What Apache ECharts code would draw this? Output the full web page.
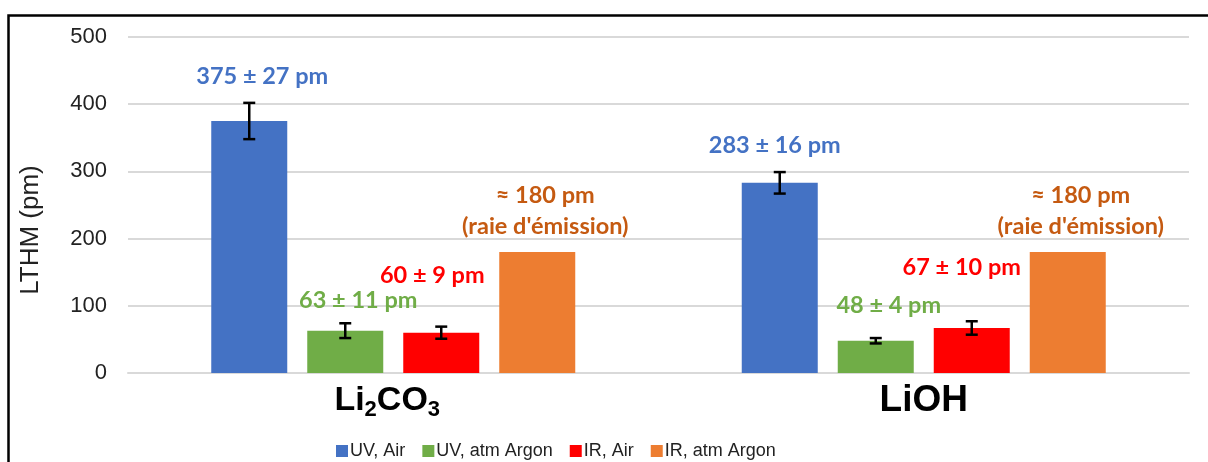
<!DOCTYPE html>
<html style="height: 100%">
<head>
    <meta charset="utf-8">
    <script type="text/javascript" src="https://cdn.jsdelivr.net/npm/echarts@6/dist/echarts.min.js"></script>
</head>
<body style="height: 100%; margin: 0; background: #fff">
<div id="container" style="width: 1208px; height: 462px"></div>
<script type="text/javascript">
    // donnees
    var categories = ['Li2CO3', 'LiOH'];
    var seriesNames = ['UV, Air', 'UV, atm Argon', 'IR, Air', 'IR, atm Argon'];
    var uvAir = [375, 283];
    var uvAirErr = [27, 16];
    var uvArgon = [63, 48];
    var uvArgonErr = [11, 4];
    var irAir = [60, 67];
    var irAirErr = [9, 10];
    var irArgon = [180, 180];
    var valueLabels = [
        ['375 ± 27 pm', '283 ± 16 pm'],
        ['63 ± 11 pm', '48 ± 4 pm'],
        ['60 ± 9 pm', '67 ± 10 pm'],
        ['≈ 180 pm', '≈ 180 pm']
    ];
    var yTicks = [0, 100, 200, 300, 400, 500];

    var colors = ['#4472C4', '#70AD47', '#FF0000', '#ED7D31'];
    var labelColors = ['#4472C4', '#70AD47', '#FF0000', '#C55A11'];
    // decalages des etiquettes [dx, dy] par serie et categorie
    var labelOffsets = [
        [[13, -32], [-5, -24]],
        [[13, -17], [13, -22]],
        [[-9, -44], [-10, -48]],
        [[8, -10], [13, -10]]
    ];

    var values = [uvAir, uvArgon, irAir, irArgon];
    var errors = [uvAirErr, uvArgonErr, irAirErr, null];

    var dom = document.getElementById('container');
    var myChart = echarts.init(dom);

    var font = 'Lato';
    var series = values.map(function (vals, s) {
        return {
            name: seriesNames[s],
            type: 'bar',
            barWidth: 76,
            barGap: (20 / 76 * 100) + '%',
            itemStyle: { color: colors[s] },
            data: vals.map(function (v, c) {
                return {
                    value: v,
                    label: {
                        show: true,
                        position: 'top',
                        distance: 0,
                        offset: labelOffsets[s][c],
                        formatter: s === 3 ? '{a|' + valueLabels[s][c] + '}\n{a|(raie d\'émission)}' : valueLabels[s][c],
                        color: labelColors[s],
                        fontFamily: font,
                        fontWeight: 'bold',
                        fontSize: 23.5,
                        lineHeight: 26,
                        rich: {
                            a: { fontFamily: font, fontWeight: 'bold', fontSize: 23.5, lineHeight: 31, color: labelColors[s] }
                        }
                    }
                };
            })
        };
    });

    // barres d'erreur
    var errData = [];
    errors.forEach(function (errs, s) {
        if (!errs) return;
        errs.forEach(function (e, c) {
            errData.push([c, values[s][c] - e, values[s][c] + e, s]);
        });
    });
    series.push({
        type: 'custom',
        name: 'err',
        z: 5,
        silent: true,
        data: errData,
        encode: { x: 0, y: [1, 2] },
        renderItem: function (params, api) {
            var c = api.value(0), s = api.value(3);
            var lo = api.coord([c, api.value(1)]);
            var hi = api.coord([c, api.value(2)]);
            var x = lo[0] + (s - 1.5) * 96;
            var half = 6;
            var st = { stroke: '#000', lineWidth: 2.5 };
            return {
                type: 'group',
                children: [
                    { type: 'line', shape: { x1: x, y1: lo[1], x2: x, y2: hi[1] }, style: st },
                    { type: 'line', shape: { x1: x - half, y1: lo[1], x2: x + half, y2: lo[1] }, style: st },
                    { type: 'line', shape: { x1: x - half, y1: hi[1], x2: x + half, y2: hi[1] }, style: st }
                ]
            };
        }
    });

    var option = {
        animation: false,
        grid: { left: 128, right: 19, top: 37, bottom: 89 },
        legend: {
            data: seriesNames,
            left: 331,
            top: 437,
            itemWidth: 12,
            itemHeight: 12,
            itemGap: 17,
            icon: 'rect',
            textStyle: { fontFamily: 'Liberation Sans', fontSize: 18, color: '#222', padding: [0, 0, 0, -3] }
        },
        xAxis: {
            type: 'category',
            data: categories,
            axisLine: { lineStyle: { color: '#d9d9d9', width: 2 } },
            axisTick: { show: false },
            axisLabel: {
                margin: 8,
                formatter: function (v) {
                    return v === 'Li2CO3' ? '{n|Li}{s|2}{n|CO}{s|3}{p|}' : '{m|' + v + '}';
                },
                rich: {
                    m: { fontFamily: 'Liberation Sans', fontWeight: 'bold', fontSize: 37, color: '#000', lineHeight: 40 },
                    n: { fontFamily: 'Liberation Sans', fontWeight: 'bold', fontSize: 34, color: '#000', lineHeight: 40 },
                    s: { fontFamily: 'Liberation Sans', fontWeight: 'bold', fontSize: 22, color: '#000', lineHeight: 40, padding: [18, 0, 0, 0] },
                    p: { width: 12, lineHeight: 40 }
                }
            }
        },
        yAxis: {
            type: 'value',
            min: yTicks[0],
            max: yTicks[yTicks.length - 1],
            interval: 100,
            name: 'LTHM (pm)',
            nameLocation: 'middle',
            nameGap: 84,
            nameTextStyle: { fontFamily: 'Liberation Sans', fontSize: 26, color: '#222', padding: [0, 50, 0, 0] },
            axisLabel: { fontFamily: 'Liberation Sans', fontSize: 22, color: '#222', margin: 21 },
            splitLine: { lineStyle: { color: '#d9d9d9', width: 2 } }
        },
        graphic: [{
            type: 'rect',
            shape: { x: 8.5, y: 15.5, width: 1300, height: 500 },
            style: { fill: 'none', stroke: '#000', lineWidth: 2.5 },
            silent: true
        }],
        series: series
    };
    myChart.setOption(option);
</script>
</body>
</html>
